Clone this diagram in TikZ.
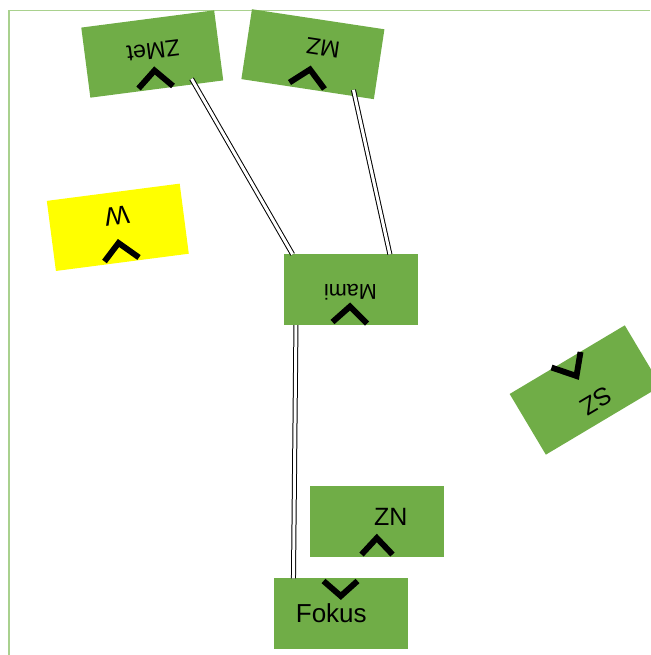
\documentclass[tikz,border=0pt]{standalone}
\usepackage{fontspec}
\setmainfont{Liberation Sans}
\usetikzlibrary{calc}
\definecolor{boxgreen}{HTML}{70AD47}
\definecolor{boxyellow}{HTML}{FFFF00}
\definecolor{framegreen}{HTML}{A9D18E}
\begin{document}
\begin{tikzpicture}[x=0.75pt,y=-0.75pt,
  gbox/.style={fill=boxgreen, draw=none, minimum width=100.5pt, minimum height=53pt, inner sep=0pt, outer sep=0pt},
  ybox/.style={gbox, fill=boxyellow},
  lbl/.style={inner sep=0pt, outer sep=0pt, text=black, font=\fontsize{#1}{#1}\selectfont},
  chev/.style={draw=black, line width=4.4pt, line join=miter, line cap=butt},
  conn/.style={draw=black, line width=0.75pt, double=white, double distance=2.25pt},
  frameline/.style={draw=framegreen, line width=0.8pt}]
\useasboundingbox (0,0) rectangle (650,655);
% frame lines
\coordinate (f1) at (650,10.5);
\coordinate (f2) at (9,10.5);
\coordinate (f3) at (9,655);
\draw[frameline] (f1) -- (f2) -- (f3);
% boxes
\node[gbox, rotate=187.4] (zmet) at (152.25,54) {};
\node[gbox, rotate=171.4] (mz) at (312.9,54.2) {};
\node[ybox, rotate=187.4] (w) at (117.8,227.3) {};
\node[gbox] (mami) at (350.5,289.7) {};
\node[gbox, rotate=210.8] (sz) at (585.3,390) {};
\node[gbox] (zn) at (377.2,521.3) {};
\node[gbox] (fokus) at (341.3,613.7) {};
% connectors
\coordinate (z1) at ($(zmet.north west)!0.233!(zmet.north east)$);
\coordinate (z2) at ($(zmet.south west)!0.233!(zmet.south east)$);
\coordinate (m1) at ($(mz.north west)!0.161!(mz.north east)$);
\coordinate (m2) at ($(mz.south west)!0.161!(mz.south east)$);
\draw[conn] ($(z1)!0.08!(z2)$) -- ($(mami.north west)!0.068!(mami.north east)$);
\draw[conn] ($(m1)!0.086!(m2)$) -- ($(mami.north west)!0.794!(mami.north east)$);
\draw[conn] ($(mami.south west)!0.093!(mami.south east)$) -- ($(fokus.north west)!0.143!(fokus.north east)$);
% labels
\node[lbl=17.5pt, rotate=187.4] (tzmet) at (153.3,51) {ZMet};
\node[lbl=17.5pt, rotate=171.4] (tmz) at (323,48) {MZ};
\node[lbl=19.5pt, rotate=187.4] (tw) at (117.2,215.8) {W};
\node[lbl=16.2pt, rotate=180] (tmami) at (350.5,292.2) {Mami};
\node[lbl=18.5pt, rotate=210.8] (tsz) at (596,401.3) {SZ};
\node[lbl=18.75pt] (tzn) at (390.8,517.2) {ZN};
\node[lbl=19.5pt] (tfokus) at (331.3,613.3) {Fokus};
% chevrons
\draw[chev] (138.5,88.5) -- (154.5,70.5) -- (173,86);
\draw[chev] (289.5,82.5) -- (310,69.5) -- (324.5,89);
\draw[chev] (104.5,261.5) -- (118.5,243) -- (139,257.5);
\draw[chev] (332.5,322) -- (350,306.5) -- (367,323.5);
\draw[chev] (551.5,367.5) -- (576.5,376) -- (580.5,352);
\draw[chev] (361.5,554.5) -- (376.8,538) -- (392.5,554.5);
\draw[chev] (323.5,581) -- (340.8,596) -- (357.5,581);
\end{tikzpicture}
\end{document}
